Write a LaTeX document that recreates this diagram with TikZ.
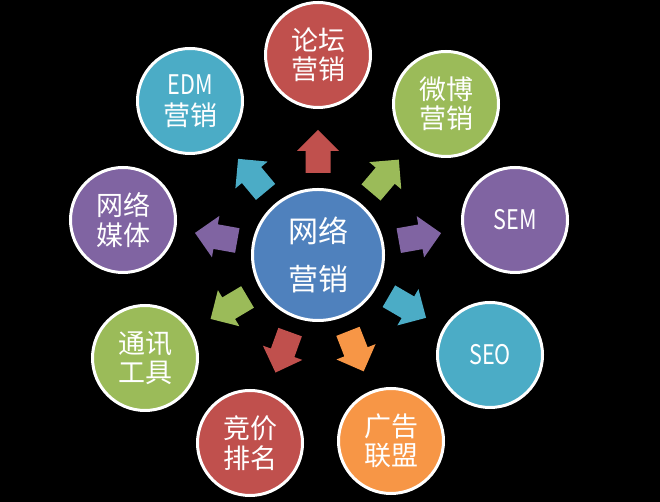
\documentclass[tikz,border=0pt]{standalone}
\usepackage{graphicx}
\usepackage{fontspec}
\setmainfont{Noto Sans CJK SC}
\usetikzlibrary{calc}
\definecolor{ored}{HTML}{C0504D}
\definecolor{ogreen}{HTML}{9BBB59}
\definecolor{opurple}{HTML}{8064A2}
\definecolor{ocyan}{HTML}{4BACC6}
\definecolor{oorange}{HTML}{F79646}
\definecolor{oblue}{HTML}{4F81BD}
\newcommand{\narrow}[1]{\scalebox{0.8}[1]{#1}}
\begin{document}
\begin{tikzpicture}[x=1pt,y=1pt,
  bubble/.style={circle, draw=white, line width=3pt, minimum size=105pt, inner sep=0pt,
    text=white, font=\fontsize{27}{29.5}\selectfont, align=center},
  hub/.style={bubble, minimum size=131pt, font=\fontsize{30}{48}\selectfont}]
\fill[black] (0,0) rectangle (660,502);
\useasboundingbox (0,0) rectangle (660,502);
\node[hub, fill=oblue] (c) at (318,247) {网络\\营销};
\node[bubble, fill=ored] (lt) at (318,447) {论坛\\营销};
\node[bubble, fill=ogreen] (wb) at (446,398) {微博\\营销};
\node[bubble, fill=opurple] (sem) at (515,282) {\narrow{SEM}};
\node[bubble, fill=ocyan] (seo) at (490,147) {\narrow{SEO}};
\node[bubble, fill=oorange] (gg) at (391,61) {广告\\联盟};
\node[bubble, fill=ored] (jj) at (250,59) {竞价\\排名};
\node[bubble, fill=ogreen] (tx) at (145,144) {通讯\\工具};
\node[bubble, fill=opurple] (mt) at (123,282) {网络\\媒体};
\node[bubble, fill=ocyan] (edm) at (190,401) {\narrow{EDM}\\[2pt]营销};
\foreach \t/\col in {lt/ored, wb/ogreen, sem/opurple, seo/ocyan, gg/oorange,
                     jj/ored, tx/ogreen, mt/opurple, edm/ocyan}{
  \fill[\col] let \p1=($(\t)-(c)$), \n1={atan2(\y1,\x1)} in
    ($(c)+(\n1:82)+(\n1+90:12.5)$) -- ($(c)+(\n1:104)+(\n1+90:12.5)$) --
    ($(c)+(\n1:104)+(\n1+90:21)$) -- ($(c)+(\n1:125)$) --
    ($(c)+(\n1:104)+(\n1-90:21)$) -- ($(c)+(\n1:104)+(\n1-90:12.5)$) --
    ($(c)+(\n1:82)+(\n1-90:12.5)$) -- cycle;
}
\end{tikzpicture}
\end{document}
